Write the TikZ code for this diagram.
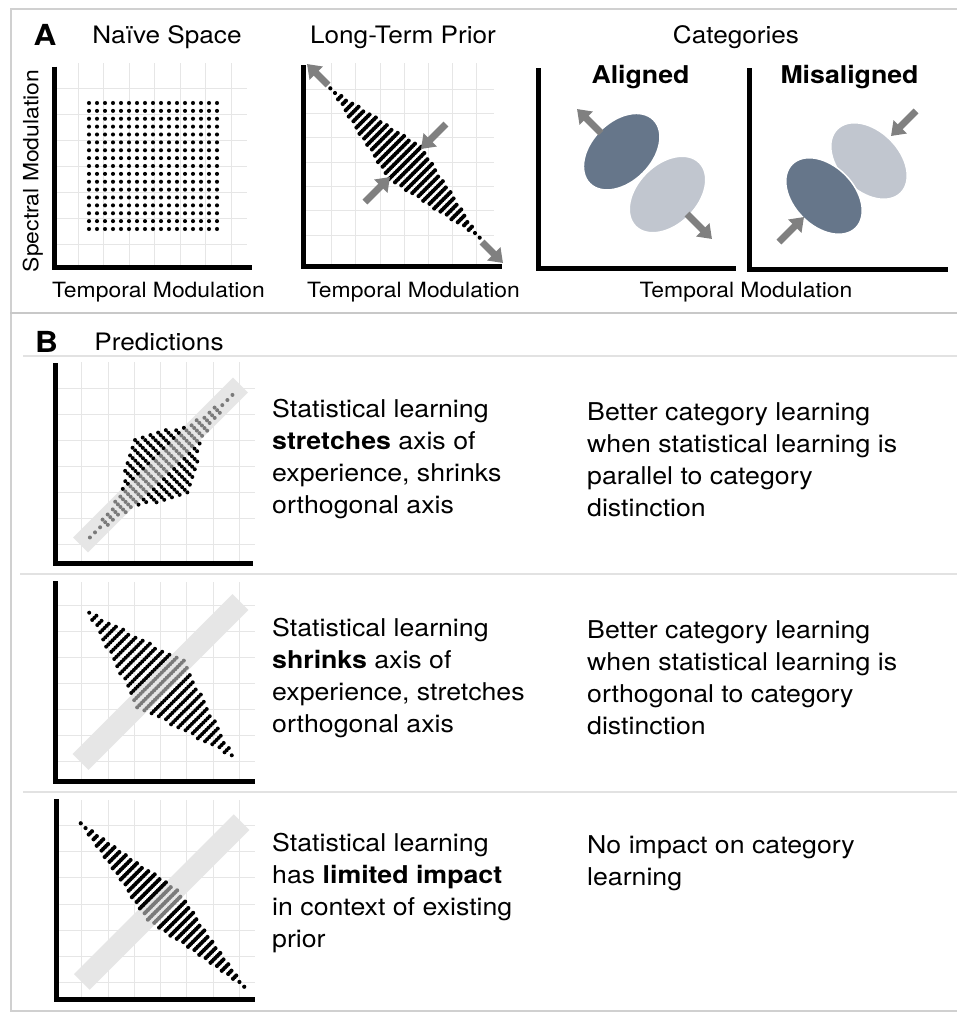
\documentclass[tikz,border=0pt]{standalone}
\usepackage{fontspec}
\setmainfont[FakeStretch=1.09]{TeX Gyre Heros}
\usetikzlibrary{arrows.meta}
\definecolor{gridc}{HTML}{E6E6E6}
\definecolor{framec}{HTML}{D0D0D0}
\definecolor{absep}{HTML}{C8C8C8}
\definecolor{sepc}{HTML}{E2E2E2}
\definecolor{arrc}{HTML}{808080}
\definecolor{darkell}{HTML}{66768A}
\definecolor{lightell}{HTML}{C1C6CF}
\definecolor{bandc}{HTML}{E6E6E6}
\definecolor{dotgray}{HTML}{7A7A7A}
\tikzset{
  gridl/.style={draw=gridc, line width=0.9pt},
  axisl/.style={draw=black, line width=5pt},
  garrow/.style={draw=arrc, line width=7pt, -{Triangle[length=13pt,width=18pt]}},
  ttl/.style={font=\fontsize{24}{28}\selectfont, inner sep=0pt, anchor=base},
  boldttl/.style={font=\fontsize{24.5}{28}\selectfont\bfseries, inner sep=0pt, anchor=base},
  axlab/.style={font=\fontsize{21}{25}\selectfont, inner sep=0pt, anchor=base},
  txt/.style={font=\fontsize{24.5}{30}\selectfont, inner sep=0pt, anchor=base west},
  panlab/.style={font=\fontsize{29}{32}\selectfont\bfseries, inner sep=0pt, anchor=base},
  sepline/.style={draw=sepc, line width=1.8pt},
  frameline/.style={draw=framec, line width=2pt},
}
% grid: x0 dx y0 dy xmin xmax ymin ymax
\newcommand\mygrid[8]{%
  \foreach \i in {0,...,6}{%
    \draw[gridl] ({#1+#2*\i},#7) -- ({#1+#2*\i},#8);
    \draw[gridl] (#5,{#3+#4*\i}) -- (#6,{#3+#4*\i});
  }}
% band of dot strokes: cx cy sgn N s W1 U1 W2 U2
\newcommand\dotband[9]{%
  \foreach \k in {-#4,...,#4}{%
    \pgfmathsetmacro\uu{\k*#5}%
    \pgfmathsetmacro\hh{max(#6*(1-abs(\uu)/#7), #8*(1-abs(\uu)/#9), 0)}%
    \pgfmathtruncatemacro\mm{floor(\hh/\dsp+0.0001)}%
    \pgfmathtruncatemacro\mn{-\mm}%
    \foreach \j in {\mn,...,\mm}{%
      \pgfmathsetmacro\vv{\j*\dsp}%
      \pgfmathtruncatemacro\isg{(abs(\vv)<=\gv) || (abs(\uu)<=\gu)}%
      \ifnum\isg=1 \def\dc{dotgray}\else\def\dc{black}\fi
      \fill[\dc] ({#1+(\uu+\vv)*0.7071},{#2+#3*(\uu-\vv)*0.7071}) circle[radius=\dr];
    }}}
% light band along "/" : cx cy halfL halfW
\newcommand\bandrect[4]{%
  \fill[bandc] ({#1+(#3+#4)*0.7071},{#2-(#3-#4)*0.7071}) -- ({#1+(#3-#4)*0.7071},{#2-(#3+#4)*0.7071})
   -- ({#1+(-#3-#4)*0.7071},{#2-(-#3+#4)*0.7071}) -- ({#1+(-#3+#4)*0.7071},{#2-(-#3-#4)*0.7071}) -- cycle;}

\begin{document}
\begin{tikzpicture}[x=1pt,y=-1pt]
\useasboundingbox (0,0) rectangle (957,1013);
\fill[white] (0,0) rectangle (957,1013);

% frame and separators
\draw[frameline] (10,9) -- (957,9);
\draw[frameline] (10.5,9) -- (10.5,1011) -- (957,1011);
\draw[draw=absep, line width=2.5pt] (10,313) -- (957,313);
\draw[sepline] (23,356) -- (957,356);
\draw[sepline] (20,574) -- (957,574);
\draw[sepline] (23,792) -- (957,792);

% ---------- Panel A ----------
\node[panlab] (labA) at (45,45.5) {A};
\node[ttl] (tnaive) at (167,43.5) {Naïve Space};
\node[ttl] (tprior) at (403,43.5) {Long-Term Prior};
\node[ttl] (tcat) at (736,43.5) {Categories};
\node[boldttl] (talig) at (640.5,83) {Aligned};
\node[boldttl] (tmis) at (849.5,83) {Misaligned};

% A1 naive space
\mygrid{78}{25.5}{88.3}{26.1}{57}{247}{63}{265}
\foreach \i in {0,...,16}{\foreach \j in {0,...,16}{%
  \fill ({89+8*\i},{103+7.875*\j}) circle[radius=2.05];}}
\draw[axisl] (54.2,66.7) -- (54.2,267.5) -- (251.7,267.5);
\node[axlab, rotate=90] (ylab) at (38.3,171) {Spectral Modulation};
\node[axlab] (xlab1) at (158.5,297) {Temporal Modulation};

% A2 long-term prior
\mygrid{331.7}{24.2}{89.3}{24.3}{305}{494}{63}{265}
\def\dsp{2.3}\def\dr{2.1}\def\gv{-1}\def\gu{-1}
\dotband{405}{163}{1}{16}{6.6}{23}{107}{0}{1}
\coordinate (p1t) at (328,85); \coordinate (p1h) at (307,64);
\coordinate (p2t) at (482,242); \coordinate (p2h) at (503,263);
\coordinate (p3t) at (446,124); \coordinate (p3h) at (421,149);
\coordinate (p4t) at (365,202); \coordinate (p4h) at (390,177);
\draw[garrow] (p1t) -- (p1h);
\draw[garrow] (p2t) -- (p2h);
\draw[garrow] (p3t) -- (p3h);
\draw[garrow] (p4t) -- (p4h);
\draw[axisl] (303.5,65) -- (303.5,266.5) -- (501.7,266.5);
\node[axlab] (xlab2) at (413.5,297) {Temporal Modulation};

% A3 categories
\fill[darkell, draw=white, line width=1.5pt, rotate around={45:(621.7,151.7)}] (621.7,151.7) ellipse[x radius=45, y radius=30];
\fill[lightell, draw=white, line width=1.5pt, rotate around={45:(667.5,194.5)}] (667.5,194.5) ellipse[x radius=45, y radius=30];
\fill[lightell, draw=white, line width=1.5pt, rotate around={-45:(869,161)}] (869,161) ellipse[x radius=45, y radius=30];
\fill[darkell, draw=white, line width=1.5pt, rotate around={-45:(824,196)}] (824,196) ellipse[x radius=45, y radius=30];
\coordinate (c1t) at (601,133); \coordinate (c1h) at (577,109);
\coordinate (c2t) at (687,214); \coordinate (c2h) at (712,239);
\coordinate (c3t) at (916,111); \coordinate (c3h) at (891,136);
\coordinate (c4t) at (779,242); \coordinate (c4h) at (804,217);
\draw[garrow] (c1t) -- (c1h);
\draw[garrow] (c2t) -- (c2h);
\draw[garrow] (c3t) -- (c3h);
\draw[garrow] (c4t) -- (c4h);
\draw[axisl] (538.5,68.3) -- (538.5,268) -- (736,268);
\draw[axisl] (749.5,68.3) -- (749.5,269.5) -- (948.3,269.5);
\node[axlab] (xlab3) at (746,297) {Temporal Modulation};

% ---------- Panel B ----------
\node[panlab] (labB) at (46.5,352.5) {B};
\node[ttl] (tpred) at (159,350) {Predictions};

% B1
\mygrid{81.7}{26.3}{388.3}{26}{58}{255}{362}{561}
\bandrect{160.5}{465}{113}{10.5}
\def\dsp{3.7}\def\dr{2.0}\def\gv{10}\def\gu{-1}
\dotband{161.2}{466.2}{-1}{14}{7.2}{40}{66}{19}{104}
\draw[axisl] (55,363.3) -- (55,563.3) -- (253.3,563.3);
\node[txt] (b1a) at (272,417) {Statistical learning};
\node[txt] (b1b) at (272,449) {\textbf{stretches} axis of};
\node[txt] (b1c) at (272,481) {experience, shrinks};
\node[txt] (b1d) at (272,513) {orthogonal axis};
\node[txt] (b1e) at (587,420) {Better category learning};
\node[txt] (b1f) at (587,452) {when statistical learning is};
\node[txt] (b1g) at (587,484) {parallel to category};
\node[txt] (b1h) at (587,516) {distinction};

% B2
\mygrid{81.7}{26.3}{605.5}{26}{58}{255}{582}{779}
\bandrect{160.5}{682}{113}{11.3}
\def\dsp{3.0}\def\dr{2.0}\def\gv{-1}\def\gu{11}
\dotband{160.5}{684}{1}{14}{7.2}{33}{103}{0}{1}
\draw[axisl] (55.7,581) -- (55.7,781) -- (255,781);
\node[txt] (b2a) at (272,636) {Statistical learning};
\node[txt] (b2b) at (272,668) {\textbf{shrinks} axis of};
\node[txt] (b2c) at (272,700) {experience, stretches};
\node[txt] (b2d) at (272,732) {orthogonal axis};
\node[txt] (b2e) at (587,638) {Better category learning};
\node[txt] (b2f) at (587,670) {when statistical learning is};
\node[txt] (b2g) at (587,702) {orthogonal to category};
\node[txt] (b2h) at (587,734) {distinction};

% B3
\mygrid{81.7}{26.3}{825.5}{26.2}{58}{255}{800}{998}
\bandrect{161.7}{902}{113}{11}
\def\dsp{2.3}\def\dr{2.1}\def\gv{-1}\def\gu{11}
\dotband{162.5}{905}{1}{17}{6.8}{21}{117}{0}{1}
\draw[axisl] (56,799.3) -- (56,999.5) -- (255,999.5);
\node[txt] (b3a) at (272,851) {Statistical learning};
\node[txt] (b3b) at (272,883) {has \textbf{limited impact}};
\node[txt] (b3c) at (272,915) {in context of existing};
\node[txt] (b3d) at (272,947) {prior};
\node[txt] (b3e) at (587,853) {No impact on category};
\node[txt] (b3f) at (587,885) {learning};
\end{tikzpicture}
\end{document}
